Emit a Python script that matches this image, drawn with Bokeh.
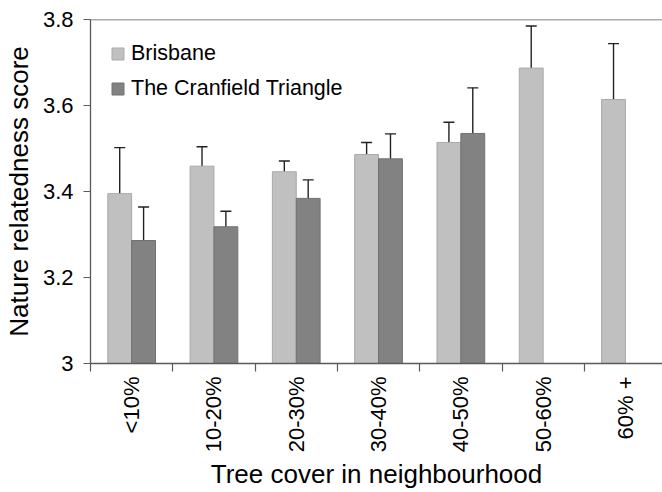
import math
from bokeh.plotting import figure
from bokeh.models import (ColumnDataSource, Whisker, FixedTicker, Range1d, Legend,
                          LegendItem, Span, TeeHead)
from bokeh.embed import file_html
from bokeh.resources import INLINE

categories = ["<10%", "10-20%", "20-30%", "30-40%", "40-50%", "50-60%", "60% +"]
brisbane = [3.395, 3.459, 3.446, 3.486, 3.514, 3.687, 3.614]
brisbane_lo = [3.288, 3.412, 3.420, 3.462, 3.468, 3.591, 3.486]
brisbane_hi = [3.502, 3.504, 3.471, 3.514, 3.561, 3.785, 3.744]
cranfield = [3.286, 3.318, 3.384, 3.476, 3.535]
cranfield_lo = [3.205, 3.283, 3.343, 3.420, 3.430]
cranfield_hi = [3.364, 3.354, 3.427, 3.534, 3.641]
y_ticks = [3.0, 3.2, 3.4, 3.6, 3.8]
y_labels = ["3", "3.2", "3.4", "3.6", "3.8"]

FONT = "Liberation Sans"
AXIS_COL = "#5a5a5a"
W, H = 662, 492
LEFT, TOP, BOTTOM = 90, 19, 128
UNIT = 82.3
BAR_W = 0.29
OFF = 0.145
FRAME_H = H - TOP - BOTTOM

centers = [i + 0.5 for i in range(len(categories))]
src_b = ColumnDataSource(dict(
    x=[c - OFF for c in centers], top=brisbane, lo=brisbane_lo, hi=brisbane_hi))
src_c = ColumnDataSource(dict(
    x=[centers[i] + OFF for i in range(len(cranfield))], top=cranfield,
    lo=cranfield_lo, hi=cranfield_hi))

p = figure(width=W, height=H, output_backend="svg", toolbar_location=None,
           x_range=Range1d(0, (W - LEFT) / UNIT), y_range=Range1d(3.0, 3.8),
           min_border_left=LEFT, min_border_top=TOP, min_border_bottom=BOTTOM,
           min_border_right=0)
p.outline_line_color = None
p.xgrid.visible = False
p.ygrid.visible = False
p.background_fill_color = "white"

r1 = p.vbar(x="x", top="top", bottom=3.0, width=BAR_W, source=src_b,
            fill_color="#c0c0c0", line_color="#a9a9a9", line_width=1)
r2 = p.vbar(x="x", top="top", bottom=3.0, width=BAR_W, source=src_c,
            fill_color="#828282", line_color="#707070", line_width=1)

for src in (src_b, src_c):
    w = Whisker(source=src, base="x", upper="hi", lower="lo",
                line_color="#222222", line_width=1.4,
                upper_head=TeeHead(size=11, line_color="#222222", line_width=1.4),
                lower_head=TeeHead(size=11, line_color="#222222", line_width=1.4))
    p.add_layout(w)

p.add_layout(Span(location=3.8, dimension="width", line_color=AXIS_COL, line_width=1.3))

# x axis
xa = p.xaxis[0]
xa.ticker = FixedTicker(ticks=centers, minor_ticks=list(range(len(categories) + 1)))
xa.major_label_overrides = {c: lab for c, lab in zip(centers, categories)}
xa.major_label_orientation = math.pi / 2
xa.major_tick_line_color = None
xa.major_tick_out = 8
xa.major_tick_in = 0
xa.minor_tick_out = 8
xa.minor_tick_in = 0
xa.minor_tick_line_color = AXIS_COL
xa.minor_tick_line_width = 1.2
xa.axis_line_color = AXIS_COL
xa.axis_line_width = 1.3
xa.major_label_standoff = 5
xa.major_label_text_font = FONT
xa.major_label_text_font_size = "22px"
xa.major_label_text_color = "black"
xa.axis_label = "Tree cover in neighbourhood"
xa.axis_label_text_font = FONT
xa.axis_label_text_font_size = "26px"
xa.axis_label_text_font_style = "normal"
xa.axis_label_text_color = "black"
xa.axis_label_standoff = 4

# y axis
ya = p.yaxis[0]
ya.ticker = FixedTicker(ticks=y_ticks, minor_ticks=[])
ya.major_label_overrides = {t: lab for t, lab in zip(y_ticks, y_labels)}
ya.major_tick_out = 7
ya.major_tick_in = 0
ya.minor_tick_out = 0
ya.major_tick_line_color = AXIS_COL
ya.major_tick_line_width = 1.2
ya.axis_line_color = AXIS_COL
ya.axis_line_width = 1.3
ya.major_label_standoff = 10
ya.major_label_text_font = FONT
ya.major_label_text_font_size = "22px"
ya.major_label_text_color = "black"
ya.axis_label = "Nature relatedness score"
ya.axis_label_text_font = FONT
ya.axis_label_text_font_size = "26px"
ya.axis_label_text_font_style = "normal"
ya.axis_label_text_color = "black"
ya.axis_label_standoff = 6

LEG_H = 24 + 10 + 24
legend = Legend(items=[LegendItem(label="Brisbane", renderers=[r1]),
                       LegendItem(label="The Cranfield Triangle", renderers=[r2])],
                location=(20, FRAME_H - 24.5 - LEG_H), glyph_width=15, glyph_height=15,
                label_height=24, spacing=10, padding=0, margin=0,
                border_line_color=None, background_fill_alpha=0,
                label_text_font=FONT, label_text_font_size="21.5px",
                label_text_color="black", label_standoff=6)
p.add_layout(legend)

open("out.html", "w").write(file_html(p, INLINE))
